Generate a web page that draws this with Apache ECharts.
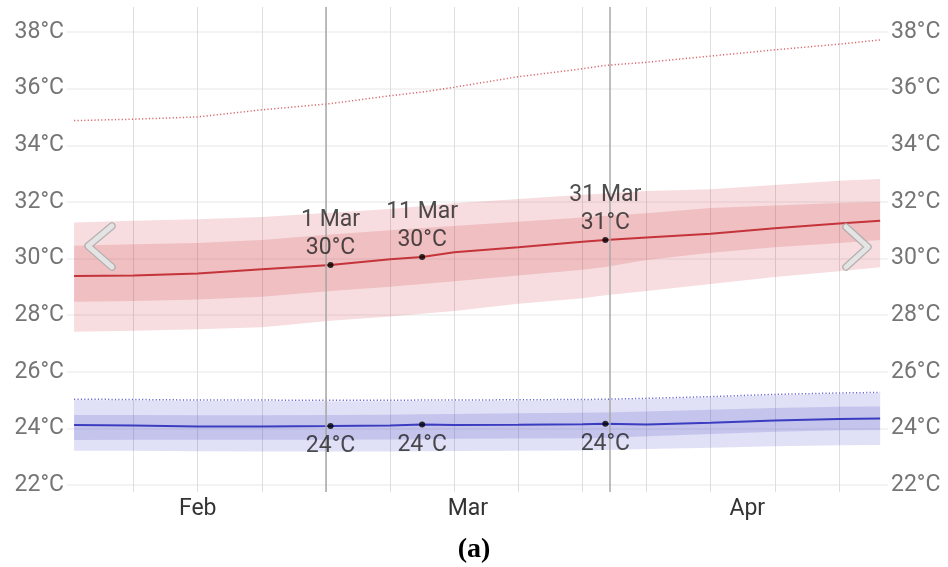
<!DOCTYPE html>
<html>
<head>
<meta charset="utf-8">
<script src="https://cdn.jsdelivr.net/npm/echarts@6/dist/echarts.min.js"></script>
<style>html,body{margin:0;padding:0;background:#fff;}#c{width:948px;height:567px;}</style>
</head>
<body>
<div id="c"></div>
<script>
// days since 1 Feb 00:00 (Mar 1 = 28, Apr 1 = 59)
const days = [0.5, 7, 14, 21, 28.5, 35, 38.5, 42, 49, 56, 58.5, 63, 70, 77, 84, 88.5];
// red (daily high)
const redAvg   = [29.38, 29.40, 29.47, 29.62, 29.77, 29.97, 30.05, 30.22, 30.40, 30.59, 30.65, 30.74, 30.87, 31.07, 31.24, 31.33];
const redP90   = [31.27, 31.33, 31.39, 31.47, 31.62, 31.75, 31.85, 31.95, 32.10, 32.25, 32.30, 32.38, 32.45, 32.60, 32.75, 32.81];
const redP10   = [27.41, 27.45, 27.50, 27.57, 27.80, 27.95, 28.05, 28.15, 28.40, 28.60, 28.70, 28.85, 29.10, 29.35, 29.55, 29.69];
const redP75   = [30.45, 30.50, 30.55, 30.65, 30.85, 31.00, 31.08, 31.15, 31.30, 31.45, 31.50, 31.60, 31.78, 31.87, 31.96, 32.00];
const redP25   = [28.47, 28.50, 28.55, 28.65, 28.85, 29.00, 29.10, 29.20, 29.40, 29.60, 29.70, 29.95, 30.20, 30.40, 30.55, 30.65];
const redMax   = [34.87, 34.92, 35.00, 35.25, 35.47, 35.75, 35.88, 36.05, 36.42, 36.70, 36.82, 36.93, 37.15, 37.37, 37.57, 37.72];
// blue (daily low)
const blueAvg  = [24.12, 24.10, 24.07, 24.07, 24.08, 24.10, 24.14, 24.12, 24.13, 24.15, 24.16, 24.14, 24.20, 24.28, 24.33, 24.35];
const blueMax  = [25.03, 25.02, 25.00, 25.00, 24.99, 24.99, 25.00, 25.00, 25.01, 25.02, 25.03, 25.06, 25.12, 25.20, 25.25, 25.27];
const blueP90  = [25.00, 24.99, 24.97, 24.97, 24.96, 24.96, 24.97, 24.97, 24.98, 24.99, 25.00, 25.03, 25.09, 25.17, 25.22, 25.24];
const blueP10  = [23.21, 23.21, 23.19, 23.18, 23.18, 23.18, 23.19, 23.20, 23.21, 23.22, 23.24, 23.27, 23.32, 23.37, 23.40, 23.41];
const blueP75  = [24.47, 24.47, 24.46, 24.46, 24.47, 24.48, 24.50, 24.51, 24.53, 24.55, 24.56, 24.60, 24.66, 24.72, 24.76, 24.77];
const blueP25  = [23.59, 23.60, 23.60, 23.60, 23.60, 23.61, 23.62, 23.63, 23.64, 23.65, 23.66, 23.72, 23.80, 23.88, 23.93, 23.94];
// highlighted days
const markerDays  = [28.5, 38.5, 58.5];
const markerNames = ['1 Mar', '11 Mar', '31 Mar'];
// month boundaries and month labels
const monthStarts = [28, 59];
const monthLabelDays = [14, 43.5, 74];
const monthLabels = ['Feb', 'Mar', 'Apr'];

const pts = arr => days.map((d, i) => [d, arr[i]]);
const at = (arr, d) => arr[days.indexOf(d)];

// band drawn as one polygon through the library's coordinate system
function band(lo, hi, color) {
  return {
    type: 'custom', xAxisIndex: 0, yAxisIndex: 0, silent: true, z: 2,
    data: days.map((d, i) => [d, lo[i], hi[i]]),
    encode: { x: 0, y: [1, 2] },
    renderItem: function (params, api) {
      if (params.dataIndex !== 0) return null;
      const top = days.map((d, i) => api.coord([d, hi[i]]));
      const bot = days.map((d, i) => api.coord([d, lo[i]])).reverse();
      return { type: 'polygon', shape: { points: top.concat(bot) }, style: { fill: color, stroke: null } };
    }
  };
}

const font = 'Roboto';
const chart = echarts.init(document.getElementById('c'), null, { renderer: 'canvas' });
const option = {
  animation: false,
  backgroundColor: '#fff',
  title: {
    text: '(a)', left: 'center', top: 531,
    textStyle: { fontFamily: 'Liberation Serif', fontWeight: 'bold', fontSize: 28, color: '#000' }
  },
  grid: [
    { left: 69.5, right: 63.3, top: 32, bottom: 82 },
    { left: 67, right: 60, top: 32, bottom: 82 },
    { left: 69.5, right: 63.3, top: 7, bottom: 75 }
  ],
  xAxis: [
    { type: 'value', gridIndex: 0, min: 0, max: 89, show: false },
    { type: 'value', gridIndex: 1, min: 0, max: 89, show: false },
    { type: 'value', gridIndex: 2, min: 0, max: 89, interval: 7,
      axisLine: { show: false }, axisTick: { show: false },
      splitLine: { show: true, showMinLine: false, showMaxLine: false, lineStyle: { color: '#dedede', width: 1 } },
      axisLabel: { show: true, customValues: monthLabelDays, margin: 6, fontFamily: font, fontSize: 23, color: '#333',
        formatter: v => monthLabels[monthLabelDays.indexOf(v)] || '' } }
  ],
  yAxis: [
    { type: 'value', gridIndex: 0, min: 22, max: 38, show: false },
    { type: 'value', gridIndex: 1, min: 22, max: 38, interval: 2, position: 'left',
      axisLine: { show: false }, axisTick: { show: false },
      splitLine: { show: true, lineStyle: { color: '#efefef', width: 1.5 } },
      axisLabel: { margin: 3, fontFamily: font, fontSize: 23, color: '#757575', formatter: '{value}°C' } },
    { type: 'value', gridIndex: 1, min: 22, max: 38, interval: 2, position: 'right',
      axisLine: { show: false }, axisTick: { show: false }, splitLine: { show: false },
      axisLabel: { margin: 3, fontFamily: font, fontSize: 23, color: '#757575', formatter: '{value}°C' } },
    { type: 'value', gridIndex: 2, min: 0, max: 1, show: false }
  ],
  series: [
    { type: 'line', xAxisIndex: 2, yAxisIndex: 3, data: [], silent: true,
      markLine: { symbol: 'none', silent: true, label: { show: false },
        lineStyle: { color: '#a8a8a8', width: 1.5, type: 'solid' },
        data: monthStarts.map(m => ({ xAxis: m })) } },
    band(redP10, redP90, 'rgba(205,55,65,0.17)'),
    band(redP25, redP75, 'rgba(205,55,65,0.18)'),
    band(blueP10, blueP90, 'rgba(70,70,200,0.17)'),
    band(blueP25, blueP75, 'rgba(70,70,200,0.18)'),
    { type: 'line', xAxisIndex: 0, yAxisIndex: 0, data: pts(redMax), symbol: 'none', z: 3,
      lineStyle: { color: '#d9686d', width: 1.5, type: [1.2, 2.2] } },
    { type: 'line', xAxisIndex: 0, yAxisIndex: 0, data: pts(blueMax), symbol: 'none', z: 3,
      lineStyle: { color: '#6a6ad6', width: 1.5, type: [1.2, 2.2] } },
    { type: 'line', xAxisIndex: 0, yAxisIndex: 0, data: pts(redAvg), symbol: 'none', z: 4,
      lineStyle: { color: '#c4343a', width: 2 } },
    { type: 'line', xAxisIndex: 0, yAxisIndex: 0, data: pts(blueAvg), symbol: 'none', z: 4,
      lineStyle: { color: '#3c3cc0', width: 2 } },
    { type: 'scatter', xAxisIndex: 0, yAxisIndex: 0, z: 6, symbolSize: 6, itemStyle: { color: '#000' },
      data: markerDays.map((d, i) => ({ value: [d, at(redAvg, d)], name: markerNames[i] })),
      label: { show: true, position: 'top', distance: 0, fontFamily: font, fontSize: 23, color: '#222', lineHeight: 28,
        formatter: p => p.name + '\n' + Math.round(p.value[1]) + '°C' } },
    { type: 'scatter', xAxisIndex: 0, yAxisIndex: 0, z: 6, symbolSize: 6, itemStyle: { color: '#000' },
      data: markerDays.map((d, i) => ({ value: [d, at(blueAvg, d)], name: markerNames[i] })),
      label: { show: true, position: 'bottom', distance: 6, fontFamily: font, fontSize: 23, color: '#222',
        formatter: p => Math.round(p.value[1]) + '°C' } }
  ],
  graphic: [
    { type: 'polyline', z: 100, shape: { points: [[112, 226], [88, 246], [112, 267]] },
      style: { stroke: '#a9a9a9', lineWidth: 7.5, fill: null, lineCap: 'round', lineJoin: 'round', opacity: 0.85 } },
    { type: 'polyline', z: 101, shape: { points: [[112, 226], [88, 246], [112, 267]] },
      style: { stroke: '#e4e4e4', lineWidth: 5, fill: null, lineCap: 'round', lineJoin: 'round' } },
    { type: 'polyline', z: 100, shape: { points: [[846, 227], [868, 247], [846, 267]] },
      style: { stroke: '#a9a9a9', lineWidth: 7.5, fill: null, lineCap: 'round', lineJoin: 'round', opacity: 0.85 } },
    { type: 'polyline', z: 101, shape: { points: [[846, 227], [868, 247], [846, 267]] },
      style: { stroke: '#e4e4e4', lineWidth: 5, fill: null, lineCap: 'round', lineJoin: 'round' } }
  ]
};
chart.setOption(option);
</script>
</body>
</html>
